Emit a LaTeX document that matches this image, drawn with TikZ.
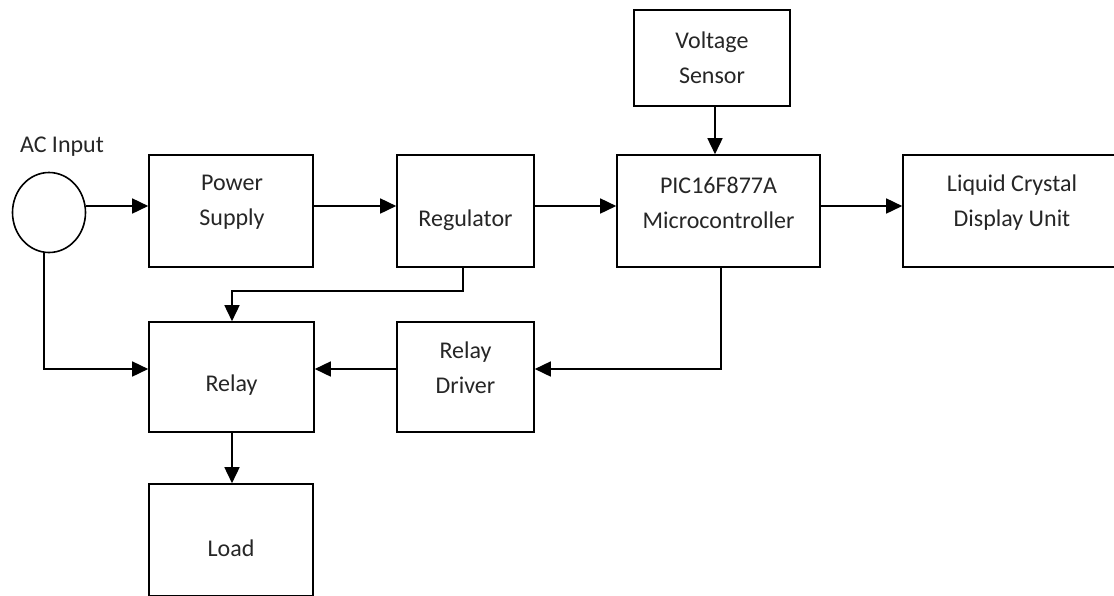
\documentclass[tikz,border=0pt]{standalone}
\usepackage{fontspec}
\setmainfont{Carlito}
\usetikzlibrary{arrows.meta,shapes.geometric,calc}
\begin{document}
\begin{tikzpicture}[x=1pt,y=-1pt,
  blk/.style={draw=black,line width=1.6pt,rectangle,inner sep=0pt,fill=white},
  lbl/.style={font=\fontsize{24}{35}\selectfont,align=center,inner sep=0pt,text=black!85},
  arr/.style={line width=1.6pt,-{Triangle[length=16pt,width=15pt]}},
  ln/.style={line width=1.6pt}]
\useasboundingbox (0,0) rectangle (1114,595);
% source
\node[draw=black,line width=1.6pt,ellipse,minimum width=73pt,minimum height=80pt,inner sep=0pt] (ac) at (49,212.5) {};
\node[lbl] (acl) at (62,147) {AC Input};
% boxes
\node[blk,minimum width=164pt,minimum height=112pt] (ps) at (231,211) {};
\node[lbl] (pst) at (232,202.5) {Power\\Supply};
\node[blk,minimum width=137pt,minimum height=112pt] (reg) at (465.5,211) {};
\node[lbl] (regt) at (465.5,220) {Regulator};
\node[blk,minimum width=203pt,minimum height=112pt] (pic) at (718.5,211) {};
\node[lbl] (pict) at (718.5,202.5) {PIC16F877A\\Microcontroller};
\node[blk,minimum width=156pt,minimum height=96pt] (vs) at (712,58) {};
\node[lbl] (vst) at (712,57.5) {Voltage\\Sensor};
\node[blk,minimum width=216pt,minimum height=112pt] (lcd) at (1011,211) {};
\node[lbl] (lcdt) at (1012,202.5) {Liquid Crystal\\Display Unit};
\node[blk,minimum width=165pt,minimum height=110pt] (rel) at (231.5,377) {};
\node[lbl] (relt) at (231.5,385) {Relay};
\node[blk,minimum width=137pt,minimum height=110pt] (rd) at (465.5,377) {};
\node[lbl] (rdt) at (465.5,368) {Relay\\Driver};
\node[blk,minimum width=164pt,minimum height=112pt] (load) at (231,540) {};
\node[lbl] (loadt) at (231,548) {Load};
% helper coordinates
\coordinate (r1) at (0,206);
\coordinate (r2) at (0,291);
\coordinate (r3) at (0,369);
\coordinate (c1) at (44,0);
\coordinate (c2) at (232,0);
\coordinate (c3) at (463,0);
\coordinate (c4) at (721,0);
\coordinate (c5) at (715,0);
% connectors
\draw[arr] (ac.east |- r1) -- (ps.west |- r1);
\draw[arr] (ps.east |- r1) -- (reg.west |- r1);
\draw[arr] (reg.east |- r1) -- (pic.west |- r1);
\draw[arr] (pic.east |- r1) -- (lcd.west |- r1);
\draw[arr] (c5 |- vs.south) -- (c5 |- pic.north);
\draw[arr] (c3 |- reg.south) -- (c3 |- r2) -- (c2 |- r2) -- (c2 |- rel.north);
\draw[arr] (c4 |- pic.south) -- (c4 |- r3) -- (rd.east |- r3);
\draw[arr] (rd.west |- r3) -- (rel.east |- r3);
\draw[arr] (c1 |- ac.south) -- (c1 |- r3) -- (rel.west |- r3);
\draw[arr] (c2 |- rel.south) -- (c2 |- load.north);
\end{tikzpicture}
\end{document}
